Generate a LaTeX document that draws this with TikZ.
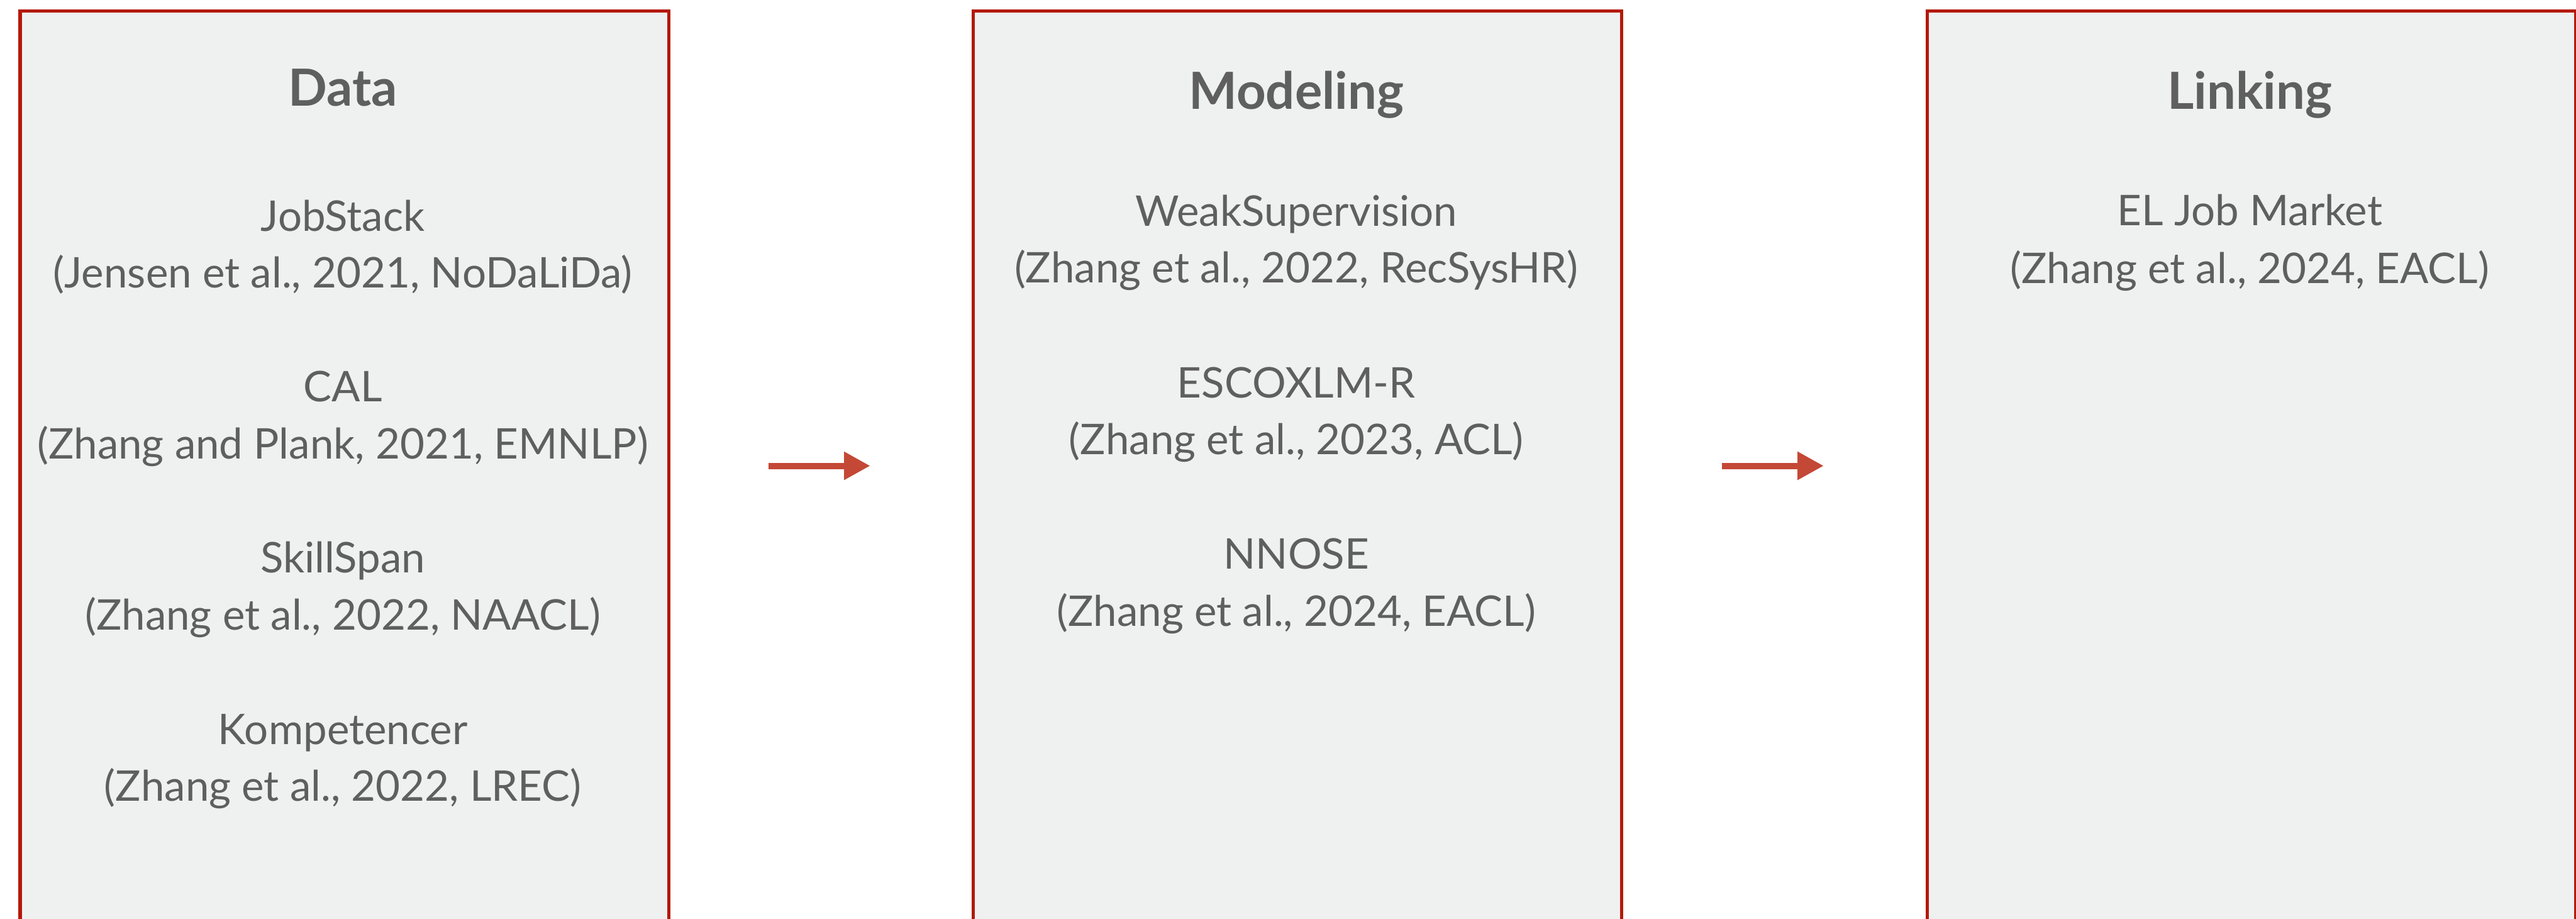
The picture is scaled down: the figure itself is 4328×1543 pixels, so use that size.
\documentclass[tikz,border=0pt]{standalone}
\usepackage{fontspec}
\setmainfont{Lato}
\usetikzlibrary{arrows.meta}
\definecolor{panelfill}{RGB}{239,241,240}
\definecolor{paneledge}{RGB}{180,25,10}
\definecolor{txtgray}{RGB}{95,95,95}
\definecolor{arrowred}{RGB}{196,72,54}
\tikzset{
  panel/.style={draw=paneledge, fill=panelfill, line width=1.1pt, minimum width=218pt, minimum height=320pt, anchor=north west, inner sep=0pt},
  ptitle/.style={anchor=base, text=txtgray, font=\fontsize{17.2}{20}\selectfont\bfseries, inner sep=0pt},
  ptext/.style={anchor=base, text=txtgray, font=\fontsize{14.2}{17}\selectfont, inner sep=0pt},
  flow/.style={draw=arrowred, line width=2.1pt, -{Triangle[length=8.8pt,width=9pt]}}
}
\begin{document}
\begin{tikzpicture}[x=0.2pt,y=-0.2pt]
\useasboundingbox (0,0) rectangle (4328,1543);
\clip (0,0) rectangle (4328,1543);
\node[panel] (data) at (31,15.5) {};
\node[panel] (model) at (1632,15.5) {};
\node[panel] (link) at (3235,15.5) {};
% Data
\node[ptitle] (dt) at (576,178) {Data};
\node[ptext] (d1) at (576,388) {JobStack};
\node[ptext] (d2) at (576,483) {(Jensen et al., 2021, NoDaLiDa)};
\node[ptext] (d3) at (576,675) {CAL};
\node[ptext] (d4) at (576,771) {(Zhang and Plank, 2021, EMNLP)};
\node[ptext] (d5) at (576,962) {SkillSpan};
\node[ptext] (d6) at (576,1058) {(Zhang et al., 2022, NAACL)};
\node[ptext] (d7) at (576,1250) {Kompetencer};
\node[ptext] (d8) at (576,1346) {(Zhang et al., 2022, LREC)};
% Modeling
\node[ptitle] (mt) at (2178,183) {Modeling};
\node[ptext] (m1) at (2178,380) {WeakSupervision};
\node[ptext] (m2) at (2178,475) {(Zhang et al., 2022, RecSysHR)};
\node[ptext] (m3) at (2178,668) {ESCOXLM-R};
\node[ptext] (m4) at (2178,763) {(Zhang et al., 2023, ACL)};
\node[ptext] (m5) at (2178,956) {NNOSE};
\node[ptext] (m6) at (2178,1052) {(Zhang et al., 2024, EACL)};
% Linking
\node[ptitle] (lt) at (3780,183) {Linking};
\node[ptext] (l1) at (3780,379) {EL Job Market};
\node[ptext] (l2) at (3780,476) {(Zhang et al., 2024, EACL)};
% arrows
\coordinate (a1s) at (1291,782.5);
\coordinate (a1e) at (1462,782.5);
\coordinate (a2s) at (2893,782.5);
\coordinate (a2e) at (3064,782.5);
\draw[flow] (a1s) -- (a1e);
\draw[flow] (a2s) -- (a2e);
\end{tikzpicture}
\end{document}
